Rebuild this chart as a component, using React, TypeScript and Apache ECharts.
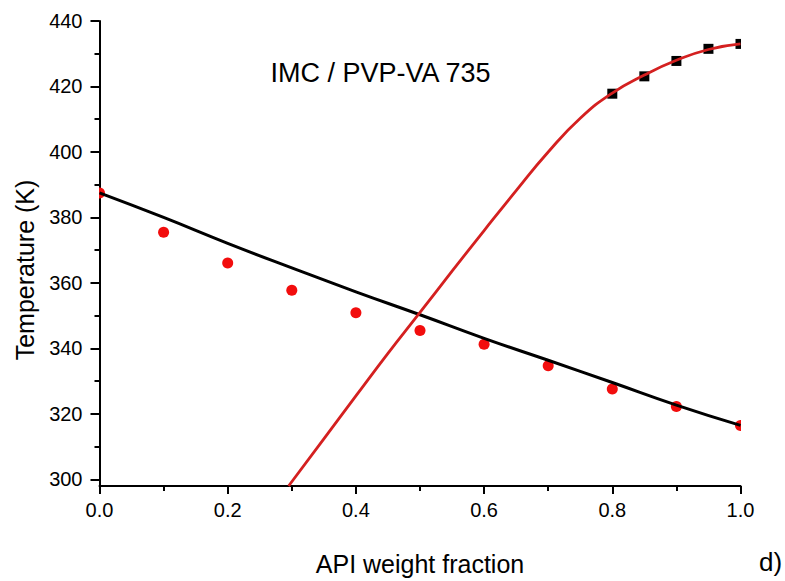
import React, { useEffect, useRef } from "react";
import * as echarts from "echarts";

// Measured data (red circles)
const circleX = [0.0, 0.1, 0.2, 0.3, 0.4, 0.5, 0.6, 0.7, 0.8, 0.9, 1.0];
const circleY = [387.5, 375.5, 366.1, 357.8, 350.9, 345.5, 341.3, 334.7, 327.6, 322.3, 316.5];

// Measured data (black squares)
const squareX = [0.8, 0.85, 0.9, 0.95, 1.0];
const squareY = [417.8, 423.1, 427.8, 431.5, 433.0];

// Black fitted curve
const gtX = [0.0, 0.1, 0.2, 0.3, 0.4, 0.5, 0.6, 0.7, 0.8, 0.9, 1.0];
const gtY = [387.5, 380.0, 372.1, 364.6, 357.3, 350.3, 343.1, 336.4, 329.6, 322.7, 316.5];

// Red fitted solubility curve
const solX = [0.295, 0.35, 0.4, 0.45, 0.5, 0.55, 0.6, 0.65, 0.7, 0.75, 0.8, 0.85, 0.9, 0.95, 1.0];
const solY = [298, 312.4, 325.5, 338.5, 351, 363.6, 376, 388.2, 400, 410.3, 418, 423.5, 428, 431.3, 433];

// Axis ticks and their labels
const xMajor = [0, 0.2, 0.4, 0.6, 0.8, 1.0];
const xLabels = ["0.0", "0.2", "0.4", "0.6", "0.8", "1.0"];
const yMajor = [300, 320, 340, 360, 380, 400, 420, 440];
const yLabels = ["300", "320", "340", "360", "380", "400", "420", "440"];
const yMinor = [310, 330, 350, 370, 390, 410, 430];

const TITLE = "IMC / PVP-VA 735";
const X_NAME = "API weight fraction";
const Y_NAME = "Temperature (K)";
const PANEL = "d)";

const FONT = "'Liberation Sans', Arial, sans-serif";

export default function App() {
  const ref = useRef<HTMLDivElement>(null);

  useEffect(() => {
    if (!ref.current) return;
    const chart = echarts.init(ref.current, undefined, { renderer: "svg" });
    const axisLineStyle = { color: "#000", width: 2 };
    const zip = (xs: number[], ys: number[]) => xs.map((x, i) => [x, ys[i]]);
    const yMin = 298;

    const baseGraphic: any[] = [
      {
        type: "text",
        x: 380.5,
        y: 72.5,
        style: { text: TITLE, fill: "#000", fontSize: 27, fontFamily: FONT, align: "center", verticalAlign: "middle" },
      },
      {
        type: "text",
        x: 25,
        y: 270,
        rotation: Math.PI / 2,
        style: { text: Y_NAME, fill: "#000", fontSize: 25, fontFamily: FONT, align: "center", verticalAlign: "middle" },
      },
      {
        type: "text",
        x: 759,
        y: 562,
        style: { text: PANEL, fill: "#000", fontSize: 26, fontFamily: FONT, align: "left", verticalAlign: "middle" },
      },
    ];

    const option: any = {
      animation: false,
      grid: { left: 99.5, right: 44.5, top: 21, bottom: 88, containLabel: false },
      xAxis: [
        {
          type: "value",
          min: 0,
          max: 1,
          interval: 0.2,
          position: "bottom",
          axisLine: { show: true, onZero: false, lineStyle: axisLineStyle },
          axisTick: { show: true, length: 8, lineStyle: axisLineStyle },
          minorTick: { show: true, splitNumber: 2, length: 5, lineStyle: axisLineStyle },
          axisLabel: { show: false },
          splitLine: { show: false },
          minorSplitLine: { show: false },
          name: X_NAME,
          nameLocation: "middle",
          nameGap: 65,
          nameTextStyle: { color: "#000", fontSize: 25, fontFamily: FONT },
        },
      ],
      yAxis: [
        {
          type: "value",
          min: yMin,
          max: 440,
          position: "left",
          axisLine: { show: true, onZero: false, lineStyle: axisLineStyle },
          axisTick: { show: true, length: 9, customValues: yMajor, lineStyle: axisLineStyle },
          axisLabel: { show: false, customValues: yMajor },
          splitLine: { show: false },
        },
        {
          type: "value",
          min: yMin,
          max: 440,
          position: "left",
          axisLine: { show: false, onZero: false },
          axisTick: { show: true, length: 5, customValues: yMinor, lineStyle: axisLineStyle },
          axisLabel: { show: false },
          splitLine: { show: false },
        },
      ],
      graphic: baseGraphic,
      series: [
        {
          type: "custom",
          xAxisIndex: 0,
          yAxisIndex: 0,
          clip: true,
          z: 2,
          data: zip(circleX, circleY),
          renderItem: (params: any, api: any) => {
            const p = api.coord([api.value(0), api.value(1)]);
            return { type: "circle", shape: { cx: p[0], cy: p[1], r: 5.5 }, style: { fill: "#f20d0d" } };
          },
        },
        {
          type: "custom",
          xAxisIndex: 0,
          yAxisIndex: 0,
          clip: true,
          z: 2,
          data: zip(squareX, squareY),
          renderItem: (params: any, api: any) => {
            const p = api.coord([api.value(0), api.value(1)]);
            return { type: "rect", shape: { x: p[0] - 5, y: p[1] - 5, width: 10, height: 10 }, style: { fill: "#000" } };
          },
        },
        {
          type: "line",
          xAxisIndex: 0,
          yAxisIndex: 0,
          data: zip(gtX, gtY),
          smooth: true,
          showSymbol: false,
          clip: true,
          z: 3,
          lineStyle: { color: "#000", width: 3 },
        },
        {
          type: "line",
          xAxisIndex: 0,
          yAxisIndex: 0,
          data: zip(solX, solY),
          smooth: true,
          showSymbol: false,
          clip: true,
          z: 4,
          lineStyle: { color: "#d42020", width: 2.8 },
        },
      ],
    };
    chart.setOption(option);

    // Tick labels placed through the chart's own scales
    const labelGraphic: any[] = [];
    xMajor.forEach((v, i) => {
      const p = chart.convertToPixel({ gridIndex: 0 }, [v, yMin]) as number[];
      labelGraphic.push({
        type: "text",
        x: p[0],
        y: p[1] + 14,
        style: { text: xLabels[i], fill: "#000", fontSize: 20, fontFamily: FONT, align: "center", verticalAlign: "top" },
      });
    });
    yMajor.forEach((v, i) => {
      const p = chart.convertToPixel({ gridIndex: 0 }, [0, v]) as number[];
      labelGraphic.push({
        type: "text",
        x: p[0] - 17,
        y: p[1],
        style: { text: yLabels[i], fill: "#000", fontSize: 20, fontFamily: FONT, align: "right", verticalAlign: "middle" },
      });
    });
    chart.setOption({ graphic: [...baseGraphic, ...labelGraphic] }, { replaceMerge: ["graphic"] });

    return () => chart.dispose();
  }, []);

  return (
    <div
      ref={ref}
      style={{ position: "fixed", left: 0, top: 0, width: 785, height: 581, background: "#fff" }}
    />
  );
}
